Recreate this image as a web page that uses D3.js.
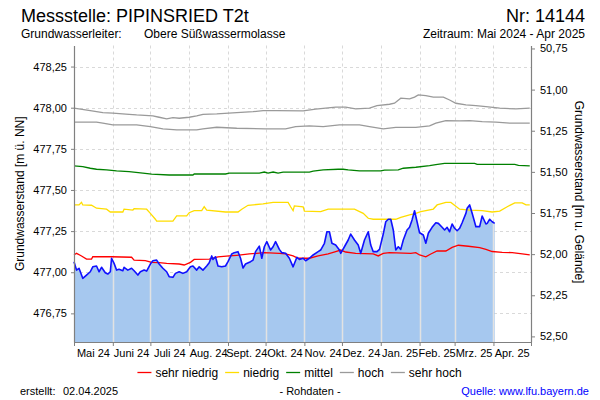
<!DOCTYPE html>
<html><head><meta charset="utf-8">
<script src="https://cdn.jsdelivr.net/npm/d3@7"></script>
<style>
body{margin:0;background:#fff;}
svg{display:block;font-family:"Liberation Sans",Arial,Helvetica,sans-serif;}
</style></head><body>
<svg id="c" width="600" height="400"></svg>
<script>
// ---------- data ----------
const monthLabels = ["Mai 24","Juni 24","Juli 24","Aug. 24","Sept. 24","Okt. 24","Nov. 24","Dez. 24","Jan. 25","Feb. 25","Mrz. 25","Apr. 25"];
const leftTicks = [476.75, 477.00, 477.25, 477.50, 477.75, 478.00, 478.25];
const rightTicks = [50.75, 51.00, 51.25, 51.50, 51.75, 52.00, 52.25, 52.50];
const groundLevel = 529.11;
const legendLabels = ["sehr niedrig","niedrig","mittel","hoch","sehr hoch"];

const pegel = [
["2024-05-01",477.064],["2024-05-03",477.013],["2024-05-05",477.024],["2024-05-08",476.963],["2024-05-11",476.983],
["2024-05-14",477.003],["2024-05-16",477.033],["2024-05-19",477.038],["2024-05-21",477.003],["2024-05-23",477.030],
["2024-05-26",476.997],["2024-05-28",476.989],["2024-05-30",477.003],["2024-05-31",477.085],["2024-06-02",477.054],
["2024-06-04",477.013],["2024-06-06",477.018],["2024-06-09",477.009],["2024-06-10",477.030],["2024-06-13",477.013],
["2024-06-16",477.024],["2024-06-18",477.009],["2024-06-21",476.983],["2024-06-23",477.003],["2024-06-26",477.013],
["2024-06-28",477.007],["2024-07-01",477.050],["2024-07-03",477.070],["2024-07-06",477.074],["2024-07-08",477.050],
["2024-07-11",477.024],["2024-07-14",477.003],["2024-07-16",476.973],["2024-07-19",476.969],["2024-07-21",476.993],
["2024-07-24",477.003],["2024-07-27",476.993],["2024-07-30",477.003],["2024-08-02",477.033],["2024-08-04",477.038],
["2024-08-07",477.013],["2024-08-09",477.033],["2024-08-12",477.013],["2024-08-15",477.038],["2024-08-17",477.058],
["2024-08-19",477.099],["2024-08-20",477.078],["2024-08-22",477.094],["2024-08-24",477.038],["2024-08-27",477.033],
["2024-08-30",477.038],["2024-09-01",477.064],["2024-09-04",477.111],["2024-09-06",477.119],["2024-09-09",477.125],
["2024-09-11",477.085],["2024-09-13",477.026],["2024-09-15",477.050],["2024-09-19",477.064],["2024-09-21",477.074],
["2024-09-23",477.125],["2024-09-26",477.159],["2024-09-28",477.085],["2024-09-30",477.155],["2024-10-02",477.186],
["2024-10-05",477.135],["2024-10-07",477.155],["2024-10-09",477.186],["2024-10-12",477.139],["2024-10-14",477.119],
["2024-10-17",477.115],["2024-10-20",477.085],["2024-10-23",477.033],["2024-10-26",477.091],["2024-10-28",477.078],
["2024-10-31",477.085],["2024-11-02",477.070],["2024-11-05",477.085],["2024-11-08",477.105],["2024-11-12",477.125],
["2024-11-14",477.135],["2024-11-17",477.176],["2024-11-19",477.246],["2024-11-21",477.246],["2024-11-23",477.176],
["2024-11-26",477.165],["2024-11-29",477.135],["2024-11-30",477.115],["2024-12-03",477.155],["2024-12-06",477.196],
["2024-12-08",477.232],["2024-12-11",477.196],["2024-12-14",477.165],["2024-12-16",477.115],["2024-12-19",477.196],
["2024-12-22",477.246],["2024-12-24",477.165],["2024-12-26",477.125],["2024-12-29",477.125],["2024-12-31",477.139],
["2025-01-03",477.232],["2025-01-05",477.307],["2025-01-07",477.322],["2025-01-09",477.322],["2025-01-11",477.257],
["2025-01-13",477.135],["2025-01-15",477.155],["2025-01-17",477.139],["2025-01-19",477.196],["2025-01-22",477.257],
["2025-01-24",477.273],["2025-01-26",477.318],["2025-01-28",477.374],["2025-01-30",477.307],["2025-02-01",477.240],
["2025-02-04",477.226],["2025-02-06",477.176],["2025-02-08",477.237],["2025-02-11",477.273],["2025-02-14",477.301],
["2025-02-16",477.297],["2025-02-19",477.273],["2025-02-21",477.257],["2025-02-23",477.273],["2025-02-25",477.246],
["2025-02-27",477.293],["2025-03-01",477.267],["2025-03-03",477.252],["2025-03-05",477.267],["2025-03-07",477.301],
["2025-03-10",477.358],["2025-03-11",477.389],["2025-03-13",477.409],["2025-03-15",477.358],["2025-03-18",477.277],
["2025-03-21",477.277],["2025-03-23",477.342],["2025-03-26",477.293],["2025-03-27",477.297],["2025-03-29",477.322],
["2025-03-31",477.307],["2025-04-02",477.297]
];

const sehrNiedrig = [
["2024-05-01",477.105],["2024-05-03",477.115],["2024-05-07",477.099],["2024-05-11",477.080],["2024-05-15",477.080],
["2024-05-16",477.094],["2024-05-31",477.094],["2024-06-16",477.091],["2024-06-18",477.074],["2024-06-27",477.070],
["2024-07-02",477.060],["2024-07-08",477.058],["2024-07-14",477.054],["2024-07-24",477.050],["2024-07-28",477.044],
["2024-08-02",477.060],["2024-08-05",477.078],["2024-08-17",477.080],["2024-08-24",477.094],["2024-09-02",477.099],
["2024-09-08",477.103],["2024-09-18",477.111],["2024-09-30",477.119],["2024-10-12",477.115],["2024-10-17",477.111],
["2024-10-23",477.099],["2024-10-27",477.085],["2024-11-05",477.085],["2024-11-12",477.099],["2024-11-20",477.111],
["2024-11-26",477.125],["2024-11-30",477.135],["2024-12-04",477.123],["2024-12-12",477.115],["2024-12-26",477.111],
["2024-12-30",477.099],["2025-01-03",477.115],["2025-01-08",477.119],["2025-01-25",477.115],["2025-01-29",477.119],
["2025-02-01",477.105],["2025-02-06",477.094],["2025-02-10",477.111],["2025-02-15",477.129],["2025-02-22",477.129],
["2025-02-27",477.151],["2025-03-04",477.164],["2025-03-12",477.158],["2025-03-21",477.150],["2025-03-26",477.139],
["2025-03-31",477.126],["2025-04-08",477.121],["2025-04-16",477.119],["2025-04-24",477.111],["2025-04-30",477.105]
];

const niedrig = [
["2024-05-01",477.409],["2024-05-05",477.409],["2024-05-07",477.425],["2024-05-08",477.409],["2024-05-15",477.407],
["2024-05-19",477.389],["2024-05-27",477.383],["2024-05-30",477.366],["2024-06-09",477.366],["2024-06-10",477.383],
["2024-06-17",477.378],["2024-06-18",477.386],["2024-06-28",477.383],["2024-07-01",477.358],["2024-07-05",477.322],
["2024-07-06",477.311],["2024-07-19",477.311],["2024-07-22",477.342],["2024-07-30",477.342],["2024-08-01",477.362],
["2024-08-05",477.374],["2024-08-11",477.374],["2024-08-13",477.398],["2024-08-15",477.378],["2024-08-30",477.366],
["2024-09-09",477.366],["2024-09-12",477.383],["2024-09-17",477.407],["2024-09-29",477.415],["2024-10-07",477.425],
["2024-10-19",477.425],["2024-10-21",477.398],["2024-10-23",477.374],["2024-10-24",477.403],["2024-10-31",477.398],
["2024-11-01",477.372],["2024-11-14",477.368],["2024-11-20",477.383],["2024-12-11",477.383],["2024-12-18",477.358],
["2024-12-22",477.328],["2024-12-26",477.322],["2025-01-13",477.322],["2025-01-17",477.334],["2025-01-24",477.348],
["2025-01-29",477.358],["2025-02-02",477.368],["2025-02-12",477.384],["2025-02-15",477.409],["2025-02-22",477.424],
["2025-02-26",477.424],["2025-03-05",477.383],["2025-03-13",477.378],["2025-03-23",477.374],["2025-03-31",477.366],
["2025-04-06",477.372],["2025-04-12",477.398],["2025-04-18",477.421],["2025-04-24",477.421],["2025-04-27",477.409],
["2025-04-30",477.409]
];

const mittel = [
["2024-05-01",477.646],["2024-05-08",477.642],["2024-05-14",477.632],["2024-05-19",477.626],["2024-05-27",477.622],
["2024-06-04",477.616],["2024-06-14",477.611],["2024-06-25",477.602],["2024-07-02",477.596],["2024-07-16",477.591],
["2024-08-04",477.591],["2024-08-05",477.597],["2024-08-30",477.597],["2024-09-02",477.602],["2024-09-26",477.602],
["2024-09-30",477.609],["2024-10-03",477.602],["2024-10-07",477.609],["2024-10-11",477.602],["2024-10-15",477.608],
["2024-11-05",477.608],["2024-11-08",477.614],["2024-11-16",477.622],["2024-11-28",477.626],["2024-12-02",477.626],
["2024-12-06",477.622],["2024-12-15",477.616],["2025-01-01",477.616],["2025-01-04",477.620],["2025-01-15",477.622],
["2025-01-19",477.632],["2025-01-29",477.638],["2025-02-09",477.648],["2025-02-14",477.654],["2025-02-21",477.662],
["2025-03-17",477.662],["2025-03-19",477.656],["2025-04-18",477.656],["2025-04-21",477.650],["2025-04-30",477.646]
];

const hoch = [
["2024-05-01",477.912],["2024-05-19",477.912],["2024-05-24",477.906],["2024-06-01",477.895],["2024-06-20",477.895],
["2024-07-01",477.885],["2024-07-11",477.871],["2024-07-22",477.865],["2024-08-07",477.865],["2024-08-12",477.871],
["2024-08-23",477.881],["2024-09-08",477.875],["2024-10-01",477.871],["2024-10-17",477.871],["2024-10-25",477.885],
["2024-11-05",477.889],["2024-11-16",477.885],["2024-11-29",477.895],["2024-12-15",477.895],["2024-12-23",477.885],
["2025-01-03",477.871],["2025-01-13",477.881],["2025-01-29",477.881],["2025-02-09",477.889],["2025-02-14",477.906],
["2025-02-22",477.922],["2025-03-05",477.920],["2025-03-13",477.922],["2025-03-23",477.915],["2025-04-03",477.912],
["2025-04-14",477.906],["2025-04-30",477.906]
];

const sehrHoch = [
["2024-05-01",477.997],["2024-05-14",477.982],["2024-05-24",477.970],["2024-06-01",477.967],["2024-06-14",477.960],
["2024-06-20",477.956],["2024-07-03",477.950],["2024-07-08",477.942],["2024-07-14",477.932],["2024-07-19",477.940],
["2024-07-24",477.936],["2024-08-01",477.942],["2024-08-07",477.950],["2024-08-12",477.960],["2024-08-23",477.962],
["2024-09-08",477.970],["2024-09-21",477.976],["2024-09-29",477.982],["2024-10-10",477.982],["2024-10-31",477.981],
["2024-11-10",477.991],["2024-11-26",478.003],["2024-12-04",478.003],["2024-12-12",477.993],["2024-12-23",477.997],
["2024-12-29",478.013],["2025-01-08",478.021],["2025-01-12",478.027],["2025-01-17",478.058],["2025-01-24",478.054],
["2025-01-28",478.064],["2025-01-31",478.078],["2025-02-06",478.074],["2025-02-12",478.064],["2025-02-20",478.064],
["2025-02-25",478.047],["2025-03-02",478.027],["2025-03-10",478.017],["2025-03-18",478.013],["2025-03-26",478.007],
["2025-04-06",477.997],["2025-04-19",477.993],["2025-04-30",477.997]
];

// ---------- chart ----------
const svg = d3.select("#c");
const parse = d3.timeParse("%Y-%m-%d");
const L = 74, R = 531, T = 45.5, B = 342;
const yMin = 476.576, yMax = 478.378;

const x = d3.scaleTime().domain([new Date(2024,4,1), new Date(2025,4,1)]).range([L, R]);
const y = d3.scaleLinear().domain([yMin, yMax]).range([B, T]);
const yR = d3.scaleLinear().domain([groundLevel - yMin, groundLevel - yMax]).range([B, T]);
const fmt = d => d3.format(".2f")(d).replace(".", ",");
const months = d3.timeMonth.range(new Date(2024,4,1), new Date(2025,4,2));

// header
svg.append("text").attr("x",21).attr("y",22).attr("font-size",18).text("Messstelle: PIPINSRIED T2t");
svg.append("text").attr("x",585).attr("y",22).attr("font-size",18).attr("text-anchor","end").text("Nr: 14144");
svg.append("text").attr("x",21).attr("y",38).attr("font-size",12).text("Grundwasserleiter:");
svg.append("text").attr("x",144).attr("y",38).attr("font-size",12).text("Obere Süßwassermolasse");
svg.append("text").attr("x",585).attr("y",38).attr("font-size",12).attr("text-anchor","end").text("Zeitraum: Mai 2024 - Apr 2025");

// grid
const grid = svg.append("g").attr("stroke","#d9d9d9").attr("stroke-dasharray","3,3").attr("stroke-width",1);
grid.selectAll("line.h").data(leftTicks).join("line").attr("class","h")
  .attr("x1",L).attr("x2",R).attr("y1",d=>Math.round(y(d))+0.5).attr("y2",d=>Math.round(y(d))+0.5);
grid.selectAll("line.v").data(months.slice(1,12)).join("line").attr("class","v")
  .attr("x1",d=>Math.round(x(d))+0.5).attr("x2",d=>Math.round(x(d))+0.5).attr("y1",T).attr("y2",B);

// area
const pts = pegel.map(d => [parse(d[0]), d[1]]);
const area = d3.area().x(d=>x(d[0])).y0(B).y1(d=>y(d[1]));
svg.append("clipPath").attr("id","areaClip").append("path").attr("d", area(pts));
svg.append("path").attr("d", area(pts)).attr("fill","#a6c8ef");
svg.append("g").attr("clip-path","url(#areaClip)").attr("stroke","#e2e2e2").attr("stroke-width",1.5)
  .selectAll("line").data(months.slice(1,12)).join("line")
  .attr("x1",d=>Math.round(x(d))+0.5).attr("x2",d=>Math.round(x(d))+0.5).attr("y1",T).attr("y2",B);

// statistic lines
const line = d3.line().x(d=>x(parse(d[0]))).y(d=>y(d[1]));
const stats = [
  {data: sehrHoch, color: "#9a9a9a"},
  {data: hoch, color: "#9a9a9a"},
  {data: mittel, color: "#008000"},
  {data: niedrig, color: "#ffdd00"},
  {data: sehrNiedrig, color: "#ff0000"}
];
stats.forEach(s => svg.append("path").attr("d", line(s.data)).attr("fill","none")
  .attr("stroke", s.color).attr("stroke-width",1.3));

// Ganglinie
svg.append("path").attr("d", d3.line().x(d=>x(d[0])).y(d=>y(d[1]))(pts))
  .attr("fill","none").attr("stroke","#1010ff").attr("stroke-width",1.6).attr("stroke-linejoin","round");

// axes
const axisColor = "#808080";
const gl = svg.append("g").attr("transform",`translate(${L},0)`)
  .call(d3.axisLeft(y).tickValues(leftTicks).tickFormat(fmt).tickSize(3).tickSizeOuter(0).tickPadding(4));
const gr = svg.append("g").attr("transform",`translate(${R},0)`)
  .call(d3.axisRight(yR).tickValues(rightTicks).tickFormat(fmt).tickSize(4).tickSizeOuter(0).tickPadding(5));
const gb = svg.append("g").attr("transform",`translate(0,${B})`)
  .call(d3.axisBottom(x).tickValues(months).tickFormat("").tickSize(4).tickSizeOuter(0));
[gl,gr,gb].forEach(g => {
  g.select(".domain").attr("stroke",axisColor).attr("stroke-width",1.2);
  g.selectAll(".tick line").attr("stroke",axisColor);
  g.selectAll("text").attr("font-size",11).attr("fill","#000").attr("font-family",null);
  g.attr("font-family",null);
});
// month labels centred in the month
svg.append("g").selectAll("text").data(monthLabels).join("text")
  .attr("x",(d,i)=>(x(months[i])+x(months[i+1]))/2).attr("y",357)
  .attr("text-anchor","middle").attr("font-size",11).text(d=>d);

// axis titles
svg.append("text").attr("transform",`translate(24,${(T+B)/2}) rotate(-90)`).attr("text-anchor","middle")
  .attr("font-size",12).text("Grundwasserstand [m ü. NN]");
svg.append("text").attr("transform",`translate(575,192) rotate(90)`).attr("text-anchor","middle")
  .attr("font-size",12).text("Grundwasserstand [m u. Gelände]");

// legend
const legColors = ["#ff0000","#ffdd00","#008000","#9a9a9a","#9a9a9a"];
const lg = svg.append("g");
let cx = 0;
const items = legendLabels.map((t,i) => {
  const g = lg.append("g");
  g.append("line").attr("x1",0).attr("x2",14).attr("y1",372.5).attr("y2",372.5)
    .attr("stroke",legColors[i]).attr("stroke-width",1.3);
  const tx = g.append("text").attr("x",18).attr("y",377).attr("font-size",12).text(t);
  const w = 18 + tx.node().getComputedTextLength();
  g.attr("transform",`translate(${cx},0)`);
  cx += w + 7;
  return g;
});
const total = cx - 7;
lg.attr("transform",`translate(${135 + (329 - total)/2},0)`);

// footer
svg.append("text").attr("x",20).attr("y",395).attr("font-size",11).text("erstellt:");
svg.append("text").attr("x",63).attr("y",395).attr("font-size",11).text("02.04.2025");
svg.append("text").attr("x",310).attr("y",395).attr("font-size",11).attr("text-anchor","middle").text("- Rohdaten -");
svg.append("text").attr("x",589).attr("y",395).attr("font-size",11).attr("text-anchor","end")
  .attr("fill","#0000ff").text("Quelle: www.lfu.bayern.de");
</script>
</body></html>
